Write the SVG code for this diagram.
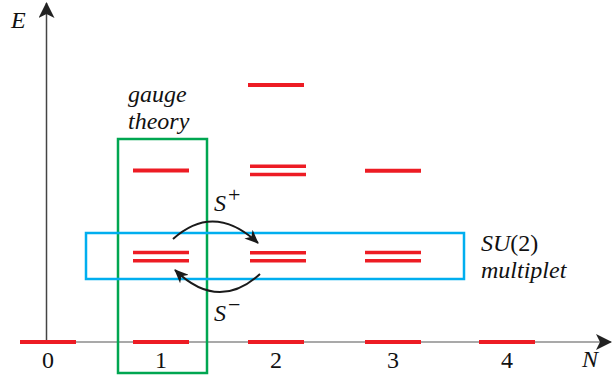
<svg xmlns="http://www.w3.org/2000/svg" width="612" height="383" viewBox="0 0 612 383">
<style>
.lvl{stroke:#ed1c24;stroke-width:4;fill:none}
.dbl{stroke:#ed1c24;stroke-width:3.5;fill:none}
.t{font-family:"Liberation Serif","DejaVu Serif",serif;font-size:24px;fill:#111}
.it{font-style:italic}
.sup{font-style:normal;font-size:22px}
.arc{stroke:#1a1a1a;stroke-width:2;fill:none}
</style>
<defs>
<marker id="ah" viewBox="0 0 14 12" refX="13" refY="6" markerWidth="14" markerHeight="12" markerUnits="userSpaceOnUse" orient="auto">
<path d="M0,0 L14,6 L0,12 L4,6 Z" fill="#1a1a1a"/>
</marker>
<marker id="axh" viewBox="0 0 16 16" refX="15" refY="8" markerWidth="16" markerHeight="16" markerUnits="userSpaceOnUse" orient="auto">
<path d="M0,0 L16,8 L0,16 L4,8 Z" fill="#222"/>
</marker>
</defs>
<g id="axes">
<line x1="46.5" y1="342" x2="46.5" y2="3" stroke="#444" stroke-width="1.5" marker-end="url(#axh)"/>
<line x1="46.5" y1="342" x2="611" y2="342" stroke="#8c8c8c" stroke-width="1.5" marker-end="url(#axh)"/>
<text class="t it" x="11" y="28">E</text>
<text class="t it" x="582" y="367">N</text>
<text class="t" x="48" y="368" text-anchor="middle">0</text>
<text class="t" x="161" y="368" text-anchor="middle">1</text>
<text class="t" x="276" y="368" text-anchor="middle">2</text>
<text class="t" x="393" y="368" text-anchor="middle">3</text>
<text class="t" x="507" y="368" text-anchor="middle">4</text>
</g>
<g id="gauge-box">
<rect x="118" y="139" width="89" height="234" fill="none" stroke="#00a651" stroke-width="2.5"/>
<text class="t it" x="128" y="102">gauge</text>
<text class="t it" x="128" y="129">theory</text>
</g>
<g id="multiplet-box">
<rect x="86" y="233" width="378" height="46" fill="none" stroke="#00aeef" stroke-width="2.5"/>
<text class="t" x="481" y="251"><tspan class="it">SU</tspan>(2)</text>
<text class="t it" x="481" y="278">multiplet</text>
</g>
<g id="levels">
<line class="lvl" x1="20" y1="342" x2="76" y2="342"/>
<line class="lvl" x1="133" y1="342" x2="189" y2="342"/>
<line class="lvl" x1="248" y1="342" x2="304" y2="342"/>
<line class="lvl" x1="365" y1="342" x2="421" y2="342"/>
<line class="lvl" x1="479" y1="342" x2="535" y2="342"/>
<line class="lvl" x1="133" y1="170.5" x2="189" y2="170.5"/>
<line class="dbl" x1="133" y1="252.5" x2="189" y2="252.5"/>
<line class="dbl" x1="133" y1="260.7" x2="189" y2="260.7"/>
<line class="lvl" x1="248" y1="85" x2="304" y2="85"/>
<line class="dbl" x1="250" y1="166.3" x2="306" y2="166.3"/>
<line class="dbl" x1="250" y1="174.5" x2="306" y2="174.5"/>
<line class="dbl" x1="250" y1="252.7" x2="306" y2="252.7"/>
<line class="dbl" x1="250" y1="260.7" x2="306" y2="260.7"/>
<line class="lvl" x1="365" y1="170.7" x2="421" y2="170.7"/>
<line class="dbl" x1="365" y1="252.5" x2="421" y2="252.5"/>
<line class="dbl" x1="365" y1="260.7" x2="421" y2="260.7"/>
</g>
<g id="connectors">
<path class="arc" d="M173,239 Q214,202 258,243" marker-end="url(#ah)"/>
<path class="arc" d="M260,274 Q218,312 175,270" marker-end="url(#ah)"/>
<text class="t it" x="214" y="211">S<tspan class="sup" dx="2" dy="-9">+</tspan></text>
<text class="t it" x="214" y="321">S<tspan class="sup" dx="2" dy="-9">−</tspan></text>
</g>
</svg>
